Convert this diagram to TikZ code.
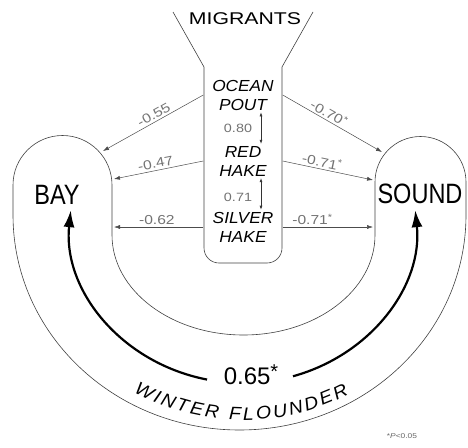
\documentclass[tikz,border=0pt]{standalone}
\usepackage{fontspec}
\setmainfont{Liberation Sans}
\newfontfamily\placefont[FakeStretch=0.84]{Liberation Sans}
\newfontfamily\numfont[FakeStretch=1.2]{Liberation Sans}
\newfontfamily\capsfont[FakeStretch=1.25]{Liberation Sans}
\newfontfamily\fishfont[FakeStretch=1.08]{Liberation Sans}
\usetikzlibrary{arrows.meta}
\usetikzlibrary{decorations.text}
\newcommand\sig{\textsuperscript{*}}

\begin{document}
\begin{tikzpicture}[
    x=1pt, y=-1pt,
    shore/.style={draw=black!75, line width=0.6pt},
    link/.style={-{Latex[length=6pt,width=4pt]}, draw=black!70, line width=0.5pt},
    flow/.style={-{Latex[length=17pt,width=11pt]}, line width=2.2pt},
    pair/.style={{Latex[length=4pt,width=3pt]}-{Latex[length=4pt,width=3pt]}, draw=black!80, line width=0.6pt},
    lab/.style={font=\numfont\fontsize{13}{13}\selectfont, text=black!55, inner sep=2pt, sloped, above},
    num/.style={font=\numfont\fontsize{12}{12}\selectfont, text=black!55},
    fish/.style={font=\fishfont\itshape\fontsize{16}{19}\selectfont, align=center, minimum width=79pt, inner sep=2pt},
    place/.style={font=\placefont\fontsize{28}{28}\selectfont}
]
\useasboundingbox (0,0) rectangle (468,447);

% Horseshoe: Bay -- Sound
\draw[shore] (112,235) -- (112,185) arc[start angle=0, end angle=-180, radius=49.5]
    -- (13,215) arc[start angle=180, end angle=0, x radius=226.5, y radius=215]
    -- (466,182) arc[start angle=0, end angle=-180, radius=45.5]
    -- (375,235) arc[start angle=0, end angle=180, x radius=131.5, y radius=100] -- cycle;

% Migrants funnel
\draw[shore] (173,12) -- (204,67) -- (204,248) arc[start angle=180, end angle=90, radius=15]
    -- (267,263) arc[start angle=90, end angle=0, radius=15] -- (282,67) -- (313,12);
\node[font=\capsfont\fontsize{17}{17}\selectfont] (mig) at (245,19) {MIGRANTS};

% Species
\node[fish] (pout) at (243,95) {OCEAN\\POUT};
\node[fish] (red) at (243,161) {RED\\HAKE};
\node[fish] (silver) at (243,227) {SILVER\\HAKE};
\node[num] (r1) at (238,128) {0.80};
\node[num] (r2) at (238,197) {0.71};
\draw[pair] ([xshift=18pt]pout.south) -- ([xshift=18pt]red.north);
\draw[pair] ([xshift=18pt]red.south) -- ([xshift=18pt]silver.north);

% Bay and Sound
\node[place] (bay) at (57,195) {BAY};
\node[place] (sound) at (420,194) {SOUND};
\coordinate (bayA) at (103,151);
\coordinate (bayB) at (114,179);
\coordinate (bayC) at (114,227);
\coordinate (soundA) at (382,152);
\coordinate (soundB) at (373,180);
\coordinate (soundC) at (373,227);

\draw[link] (pout.west) -- node[lab, pos=0.46] {-0.55} (bayA);
\draw[link] (red.west) -- node[lab, pos=0.52] {-0.47} (bayB);
\draw[link] (silver.west) -- node[lab, pos=0.52] {-0.62} (bayC);
\draw[link] (pout.east) -- node[lab, pos=0.43] {-0.70\sig} (soundA);
\draw[link] (red.east) -- node[lab, pos=0.42] {-0.71\sig} (soundB);
\draw[link] (silver.east) -- node[lab, pos=0.33] {-0.71\sig} (soundC);

% Winter flounder
\node[font=\fontsize{24}{24}\selectfont] (wf) at (251,375) {0.65\raisebox{0.45ex}{\fontsize{20}{20}\selectfont*}};
\path (243,225) ++(102:173 and 158) coordinate (wfL);
\path (243,225) ++(73.2:173 and 158) coordinate (wfR);
\draw[flow] (wfL) arc[start angle=102, end angle=185.4, x radius=173, y radius=158];
\draw[flow] (wfR) arc[start angle=73.2, end angle=-5.4, x radius=173, y radius=158];
\path (243,225) ++(121:212 and 195) coordinate (wfT);
\path[decorate, decoration={text along path, text align={fit to path},
    text={|\fishfont\itshape\fontsize{18}{18}\selectfont|WINTER FLOUNDER}}]
    (wfT) arc[start angle=121, end angle=60, x radius=212, y radius=195];

\node[font=\numfont\fontsize{7}{7}\selectfont, text=black!60] (note) at (402,436) {*\textit{P}<0.05};

\end{tikzpicture}
\end{document}
